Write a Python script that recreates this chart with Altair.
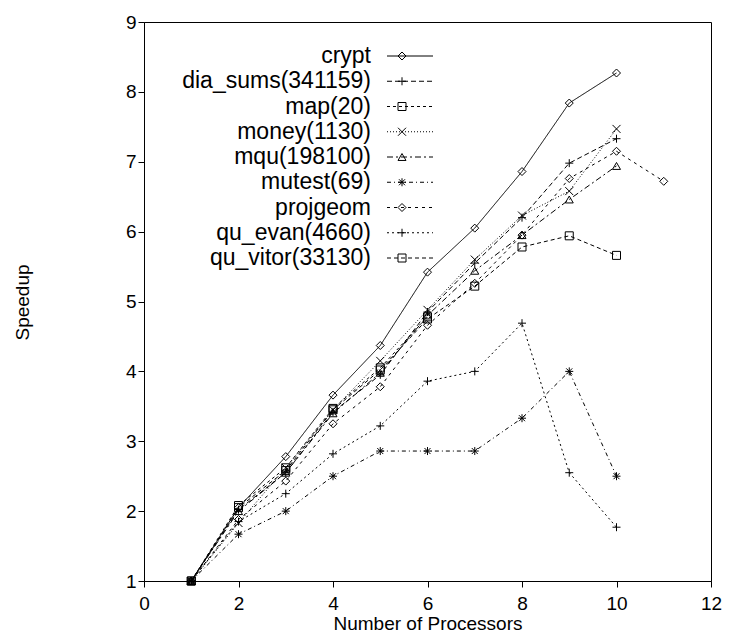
import altair as alt
import pandas as pd

FONT = "Liberation Sans"

series_names = ["crypt", "dia_sums(341159)", "map(20)", "money(1130)", "mqu(198100)",
                "mutest(69)", "projgeom", "qu_evan(4660)", "qu_vitor(33130)"]

procs_10 = [1, 2, 3, 4, 5, 6, 7, 8, 9, 10]
procs_6 = [1, 2, 3, 4, 5, 6]
procs_11 = [1, 2, 3, 4, 5, 6, 7, 8, 9, 10, 11]

crypt = [1.0, 2.05, 2.78, 3.66, 4.37, 5.42, 6.05, 6.86, 7.84, 8.27]
dia_sums = [1.0, 2.02, 2.55, 3.42, 3.95, 4.85, 5.55, 6.20, 6.98, 7.33]
map20 = [1.0, 2.08, 2.62, 3.47, 4.05, 4.78]
money = [1.0, 1.83, 2.62, 3.45, 4.15, 4.88, 5.60, 6.23, 6.58, 7.47]
mqu = [1.0, 2.0, 2.55, 3.40, 3.98, 4.80, 5.44, 5.95, 6.46, 6.94]
mutest = [1.0, 1.67, 2.0, 2.5, 2.86, 2.86, 2.86, 3.33, 4.0, 2.5]
projgeom = [1.0, 1.88, 2.43, 3.25, 3.78, 4.66, 5.26, 5.95, 6.76, 7.15, 6.72]
qu_evan = [1.0, 1.85, 2.25, 2.82, 3.22, 3.86, 4.0, 4.69, 2.55, 1.77]
qu_vitor = [1.0, 2.05, 2.58, 3.45, 4.02, 4.75, 5.22, 5.78, 5.94, 5.66]

series_data = [
    (series_names[0], procs_10, crypt),
    (series_names[1], procs_10, dia_sums),
    (series_names[2], procs_6, map20),
    (series_names[3], procs_10, money),
    (series_names[4], procs_10, mqu),
    (series_names[5], procs_10, mutest),
    (series_names[6], procs_11, projgeom),
    (series_names[7], procs_10, qu_evan),
    (series_names[8], procs_10, qu_vitor),
]

rows = []
for name, xs, ys in series_data:
    for x, y in zip(xs, ys):
        rows.append({"series": name, "procs": x, "speedup": y})
df = pd.DataFrame(rows)

PLUS = "M-1,0L1,0M0,-1L0,1"
XMARK = "M-1,-1L1,1M-1,1L1,-1"
STAR = "M-1,0L1,0M0,-1L0,1M-0.75,-0.75L0.75,0.75M-0.75,0.75L0.75,-0.75"

dashes = [[1, 0], [5, 3], [3, 3], [1, 2], [6, 3, 2, 3], [4, 3, 1, 3], [3, 4], [2, 3], [4, 3]]
shapes = ["diamond", PLUS, "square", XMARK, "triangle-up", STAR, "diamond", PLUS, "square"]

dash_scale = alt.Scale(domain=series_names, range=dashes)
shape_scale = alt.Scale(domain=series_names, range=shapes)

x_enc = alt.X("procs:Q", scale=alt.Scale(domain=[0, 12], nice=False),
              axis=alt.Axis(values=[0, 2, 4, 6, 8, 10, 12], title="Number of Processors",
                            labelFlush=False, labelPadding=7, titlePadding=1))
y_enc = alt.Y("speedup:Q", scale=alt.Scale(domain=[1, 9], nice=False),
              axis=alt.Axis(values=list(range(1, 10)), title="Speedup",
                            titleX=-122, titleY=280, titleAngle=270, titleBaseline="middle",
                            titleAlign="center"))

lines = alt.Chart(df).mark_line(color="black", strokeWidth=1).encode(
    x=x_enc, y=y_enc,
    strokeDash=alt.StrokeDash("series:N", scale=dash_scale, legend=None),
    order="procs:Q",
)
points = alt.Chart(df).mark_point(filled=False, color="black", strokeWidth=1, size=64, opacity=1).encode(
    x=x_enc, y=y_enc,
    shape=alt.Shape("series:N", scale=shape_scale, legend=None),
)

leg_df = pd.DataFrame({"series": series_names})
leg_y = alt.Y("series:N", scale=alt.Scale(type="point", domain=series_names, range=[34, 236], padding=0),
              axis=None)
leg_text = alt.Chart(leg_df).mark_text(align="right", baseline="middle", fontSize=23, font=FONT,
                                       color="black").encode(
    x=alt.value(227), y=leg_y, text="series:N")
leg_rule = alt.Chart(leg_df).mark_rule(color="black", strokeWidth=1).encode(
    x=alt.value(243), x2=alt.value(289), y=leg_y,
    strokeDash=alt.StrokeDash("series:N", scale=dash_scale, legend=None))
leg_pt = alt.Chart(leg_df).mark_point(filled=False, color="black", strokeWidth=1, size=64, opacity=1).encode(
    x=alt.value(258), y=leg_y,
    shape=alt.Shape("series:N", scale=shape_scale, legend=None))

chart = alt.layer(
    alt.layer(lines, points),
    alt.layer(leg_rule, leg_text, leg_pt),
).resolve_scale(y="independent").properties(
    width=567, height=559,
    padding={"left": 136, "top": 14, "right": 11, "bottom": 52},
    autosize=alt.AutoSizeParams(type="none"),
).configure_view(
    stroke="black", strokeWidth=1
).configure_axis(
    grid=False, domainColor="black", tickColor="black", labelColor="black", titleColor="black",
    labelFont=FONT, titleFont=FONT, labelFontSize=19, titleFontSize=19, titleFontWeight="normal",
    tickSize=6, domainWidth=1, tickWidth=1,
)

chart.save("out.html", embed_options={"renderer": "svg", "actions": False})
